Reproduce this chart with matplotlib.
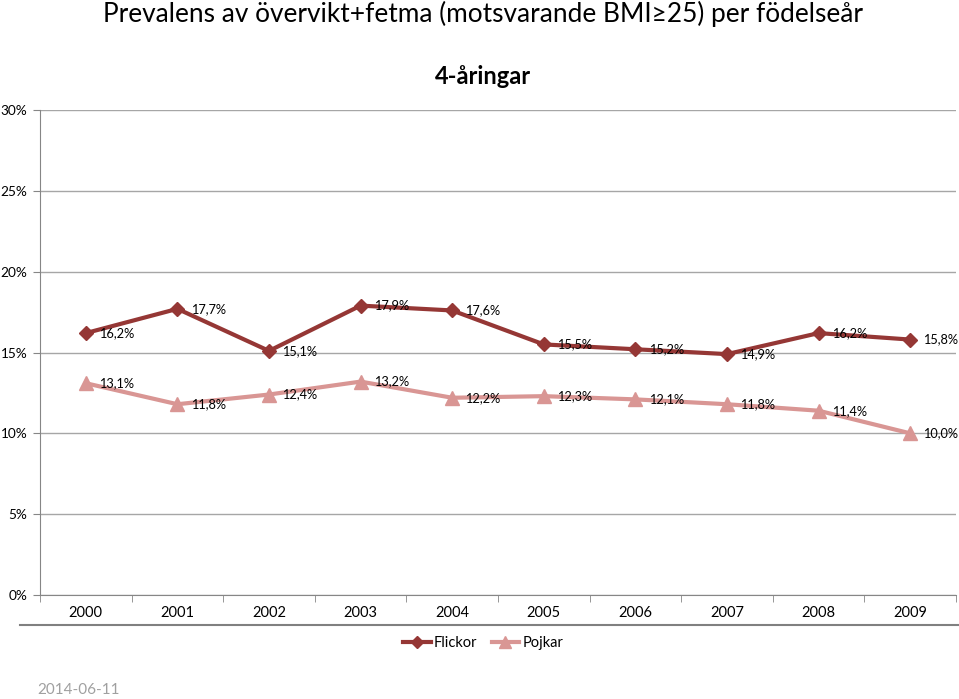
import matplotlib
matplotlib.use("Agg")
import matplotlib.pyplot as plt
from matplotlib.lines import Line2D

years = ["2000", "2001", "2002", "2003", "2004", "2005", "2006", "2007", "2008", "2009"]
flickor = [16.2, 17.7, 15.1, 17.9, 17.6, 15.5, 15.2, 14.9, 16.2, 15.8]
pojkar = [13.1, 11.8, 12.4, 13.2, 12.2, 12.3, 12.1, 11.8, 11.4, 10.0]
yticks = [0, 5, 10, 15, 20, 25, 30]

FONT = "Lato"
plt.rcParams["font.family"] = [FONT, "DejaVu Sans"]

c_f = "#953735"
c_p = "#D99694"

W, H = 959, 699
fig = plt.figure(figsize=(W / 100, H / 100), dpi=100)
ax = fig.add_axes([40 / W, 1 - 595 / H, (956 - 40) / W, (595 - 110) / H])

x = list(range(len(years)))
ax.plot(x, flickor, color=c_f, lw=3, marker="D", ms=7.5, label="Flickor", zorder=3)
ax.plot(x, pojkar, color=c_p, lw=3, marker="^", ms=10, label="Pojkar", zorder=3)

def fmt(v):
    return f"{v:.1f}%".replace(".", ",")

for xi, v in zip(x, flickor):
    ax.annotate(fmt(v), (xi, v), xytext=(9.5, 0), textcoords="offset points",
                va="center", ha="left", fontsize=9.2, color="black", annotation_clip=False)
for xi, v in zip(x, pojkar):
    ax.annotate(fmt(v), (xi, v), xytext=(9.5, 0), textcoords="offset points",
                va="center", ha="left", fontsize=9.2, color="black", annotation_clip=False)

ax.set_xlim(-0.5, len(years) - 0.5)
ax.set_ylim(0, 30)
ax.set_yticks(yticks)
ax.set_yticklabels([f"{t}%" for t in yticks], fontsize=9.8)
ax.set_xticks(x)
ax.set_xticklabels(years, fontsize=10.5)
ax.tick_params(axis="x", length=0, pad=8)
ax.set_xticks([i - 0.5 for i in range(len(years) + 1)], minor=True)
ax.tick_params(axis="x", which="minor", length=5, color="#868686")
ax.tick_params(axis="y", length=5, color="#868686", pad=4)
ax.grid(axis="y", color="#A6A6A6", lw=1)
ax.set_axisbelow(True)
for s in ["top", "right"]:
    ax.spines[s].set_visible(False)
for s in ["left", "bottom"]:
    ax.spines[s].set_color("#868686")

fig.text(103 / W, 1 - 14 / H, "Prevalens av övervikt+fetma (motsvarande BMI≥25) per födelseår",
         fontsize=18.9, ha="left", va="center")
fig.text(483 / W, 1 - 77 / H, "4-åringar", fontsize=17, fontweight="bold", ha="center", va="center")

fig.add_artist(Line2D([20 / W, 1.0], [1 - 625 / H, 1 - 625 / H], color="#808080", lw=1.5,
                      transform=fig.transFigure))

fig.legend(loc="center", bbox_to_anchor=(483 / W, 1 - 643 / H), ncol=2, frameon=False,
           fontsize=10.5, handlelength=1.9, columnspacing=1.0, handletextpad=0.2, markerscale=0.8)

fig.text(37 / W, 1 - 690 / H, "2014-06-11", fontsize=11, color="#A0A0A0", ha="left", va="center")

fig.savefig("out.png", dpi=100)
